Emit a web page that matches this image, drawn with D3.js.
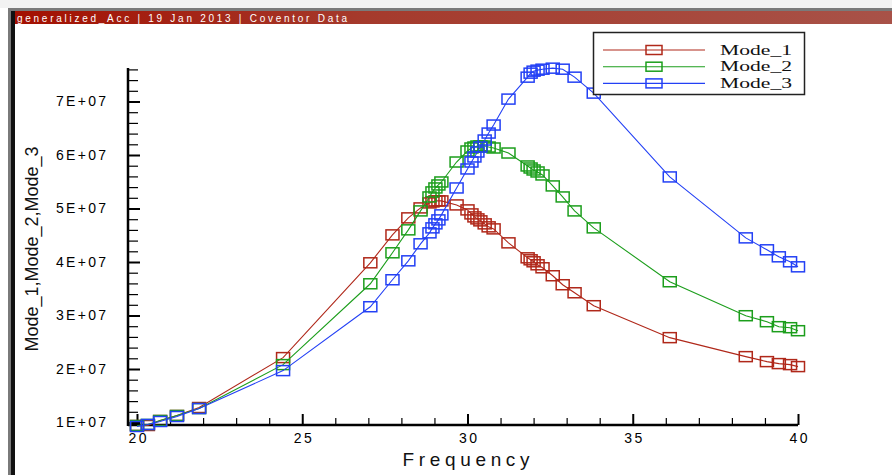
<!DOCTYPE html>
<html>
<head>
<meta charset="utf-8">
<script src="https://cdn.jsdelivr.net/npm/d3@7"></script>
<style>
  html, body { margin: 0; padding: 0; background: #ffffff; }
  svg { display: block; }
</style>
</head>
<body>
<svg id="chart" width="892" height="475"></svg>
<script>
// ---------------- data ----------------
const titleText = "generalized_Acc  |  19 Jan 2013  |  Coventor Data";
const seriesNames = ["Mode_1", "Mode_2", "Mode_3"];
const seriesColors = ["#b0281a", "#1c9e1c", "#2340f5"];

const frequency = [20.0, 20.33, 20.70, 21.21, 21.88, 24.42, 27.06, 27.73, 28.21, 28.58,
  28.85, 28.94, 29.03, 29.12, 29.21, 29.67, 30.00, 30.12, 30.21, 30.30,
  30.39, 30.52, 30.64, 30.79, 31.24, 31.82, 31.91, 32.00, 32.12, 32.27,
  32.58, 32.88, 33.24, 33.82, 36.12, 38.42, 39.06, 39.42, 39.76, 40.0];

const mode1 = [0.944, 0.944, 1.037, 1.131, 1.280, 2.213, 3.985, 4.507, 4.825, 5.011,
  5.104, 5.123, 5.142, 5.142, 5.142, 5.067, 4.974, 4.899, 4.843, 4.806,
  4.769, 4.713, 4.657, 4.619, 4.358, 4.078, 4.041, 4.004, 3.948, 3.892,
  3.743, 3.575, 3.425, 3.183, 2.586, 2.231, 2.138, 2.101, 2.082, 2.045];

const mode2 = [0.944, 0.963, 1.037, 1.131, 1.261, 2.082, 3.593, 4.172, 4.601, 4.955,
  5.216, 5.310, 5.384, 5.440, 5.496, 5.869, 6.075, 6.131, 6.149, 6.168,
  6.168, 6.168, 6.149, 6.131, 6.037, 5.795, 5.757, 5.720, 5.683, 5.627,
  5.422, 5.216, 4.955, 4.638, 3.631, 2.996, 2.884, 2.791, 2.772, 2.716];

const mode3 = [0.925, 0.963, 1.019, 1.112, 1.261, 1.970, 3.164, 3.668, 4.022, 4.340,
  4.545, 4.638, 4.713, 4.787, 4.881, 5.384, 5.739, 5.869, 5.963, 6.056,
  6.149, 6.280, 6.410, 6.560, 7.045, 7.455, 7.530, 7.567, 7.586, 7.604,
  7.623, 7.604, 7.455, 7.157, 5.590, 4.451, 4.228, 4.097, 4.004, 3.910];

const valueUnit = 1e7; // values above are in units of 1E+07
const xMajorTicks = [20, 25, 30, 35, 40];
const yMajorTicks = [1e7, 2e7, 3e7, 4e7, 5e7, 6e7, 7e7];

// ---------------- drawing ----------------
const svg = d3.select("#chart");

// window frame
svg.append("rect").attr("x", 0).attr("y", 0).attr("width", 892).attr("height", 475).attr("fill", "#ffffff");
svg.append("rect").attr("x", 0).attr("y", 0).attr("width", 892).attr("height", 8).attr("fill", "#f2f2f2");
svg.append("rect").attr("x", 8).attr("y", 8).attr("width", 884).attr("height", 3).attr("fill", "#7a7a7a");
const grad = svg.append("defs").append("linearGradient").attr("id", "tbar")
  .attr("x1", "0").attr("x2", "1").attr("y1", "0").attr("y2", "0");
grad.append("stop").attr("offset", "0%").attr("stop-color", "#a30f00");
grad.append("stop").attr("offset", "40%").attr("stop-color", "#a53a2c");
grad.append("stop").attr("offset", "100%").attr("stop-color", "#a85248");
svg.append("rect").attr("x", 11).attr("y", 11).attr("width", 881).attr("height", 13).attr("fill", "url(#tbar)");
svg.append("rect").attr("x", 8).attr("y", 8).attr("width", 3).attr("height", 467).attr("fill", "#7a7a7a");
svg.append("rect").attr("x", 11).attr("y", 11).attr("width", 4).attr("height", 464).attr("fill", "#111111");
svg.append("text").attr("x", 17).attr("y", 21.5)
  .attr("fill", "#ffffff").attr("font-family", "Liberation Sans, Arial, sans-serif")
  .attr("font-size", 10)
  .attr("textLength", 330).attr("lengthAdjust", "spacing")
  .text(titleText);

// scales
const x = d3.scaleLinear().domain([19.728, 40]).range([128, 798]);
const y = d3.scaleLinear().domain([0.9533e7, 7.6262e7]).range([425, 68]);

const g = svg.append("g");

// axes
const xMinor = d3.range(20, 41, 1).filter(v => v % 5 !== 0);
const yMinor = d3.range(1e7, 7.61e7, 2e6).filter(v => Math.round(v / 1e6) % 10 !== 0);

const xAxisMinor = d3.axisBottom(x).tickValues(xMinor).tickSize(-7).tickFormat("");
const xAxisMajor = d3.axisBottom(x).tickValues(xMajorTicks).tickSize(-11).tickPadding(17)
  .tickFormat(d3.format("d"));
const yAxisMinor = d3.axisLeft(y).tickValues(yMinor).tickSize(-10).tickFormat("");
const yAxisMajor = d3.axisLeft(y).tickValues(yMajorTicks).tickSize(-12).tickPadding(22)
  .tickFormat(d => (d / 1e7) + "E+07");

function styleAxis(sel, w) {
  sel.select(".domain").remove();
  sel.selectAll(".tick line").attr("stroke", "#000").attr("stroke-width", w);
}

g.append("g").attr("transform", "translate(0,425)").call(xAxisMinor).call(s => styleAxis(s, 1.2));
const xa = g.append("g").attr("transform", "translate(0,425)").call(xAxisMajor).call(s => styleAxis(s, 2));
xa.selectAll(".tick text")
  .attr("font-family", "Liberation Sans, Arial, sans-serif").attr("font-size", 14)
  .attr("fill", "#000").attr("dy", "0.1em")
  .attr("textLength", 18).attr("lengthAdjust", "spacing");

g.append("g").attr("transform", "translate(128,0)").call(yAxisMinor).call(s => styleAxis(s, 1.2));
const ya = g.append("g").attr("transform", "translate(128,0)").call(yAxisMajor).call(s => styleAxis(s, 2));
ya.selectAll(".tick text")
  .attr("font-family", "Liberation Sans, Arial, sans-serif").attr("font-size", 14)
  .attr("fill", "#000")
  .attr("textLength", 50).attr("lengthAdjust", "spacing");

// axis lines
g.append("line").attr("x1", x.range()[0]).attr("x2", x.range()[1])
  .attr("y1", y.range()[0]).attr("y2", y.range()[0])
  .attr("stroke", "#000").attr("stroke-width", 2.5);
g.append("line").attr("x1", x.range()[0]).attr("x2", x.range()[0])
  .attr("y1", y.range()[0] + 1).attr("y2", y.range()[1])
  .attr("stroke", "#000").attr("stroke-width", 2.5);

// axis titles
g.append("text").attr("x", 466).attr("y", 466).attr("text-anchor", "middle")
  .attr("font-family", "Liberation Sans, Arial, sans-serif").attr("font-size", 19)
  .attr("fill", "#111").attr("textLength", 127).attr("lengthAdjust", "spacing")
  .text("Frequency");
g.append("text").attr("transform", "translate(38,249) rotate(-90)").attr("text-anchor", "middle")
  .attr("font-family", "Liberation Sans, Arial, sans-serif").attr("font-size", 19)
  .attr("fill", "#111").attr("textLength", 205).attr("lengthAdjust", "spacingAndGlyphs")
  .text(seriesNames.join(","));

// series
const allSeries = [mode1, mode2, mode3];
const line = d3.line().x(d => x(d.f)).y(d => y(d.v));
const mw = 13, mh = 10;
allSeries.forEach((vals, i) => {
  const pts = frequency.map((f, k) => ({ f: f, v: vals[k] * valueUnit }));
  const sg = g.append("g");
  sg.append("path").datum(pts).attr("d", line)
    .attr("fill", "none").attr("stroke", seriesColors[i]).attr("stroke-width", 1.1);
  sg.selectAll("rect").data(pts).join("rect")
    .attr("x", d => x(d.f) - mw / 2).attr("y", d => y(d.v) - mh / 2)
    .attr("width", mw).attr("height", mh)
    .attr("fill", "none").attr("stroke", seriesColors[i]).attr("stroke-width", 1.5);
});

// legend
const lg = svg.append("g");
lg.append("rect").attr("x", 593.5).attr("y", 32.5).attr("width", 211).attr("height", 62)
  .attr("fill", "#ffffff").attr("stroke", "#222").attr("stroke-width", 1.5);
seriesNames.forEach((name, i) => {
  const ly = 50 + i * 16.7;
  lg.append("line").attr("x1", 603).attr("x2", 705).attr("y1", ly).attr("y2", ly)
    .attr("stroke", seriesColors[i]).attr("stroke-width", 1.1);
  lg.append("rect").attr("x", 646).attr("y", ly - 4.5).attr("width", 16).attr("height", 9)
    .attr("fill", "none").attr("stroke", seriesColors[i]).attr("stroke-width", 1.5);
  lg.append("text").attr("x", 720).attr("y", ly + 4.5)
    .attr("font-family", "Liberation Serif, Times New Roman, serif").attr("font-size", 14)
    .attr("fill", "#111").attr("textLength", 72).attr("lengthAdjust", "spacingAndGlyphs")
    .text(name);
});
</script>
</body>
</html>
